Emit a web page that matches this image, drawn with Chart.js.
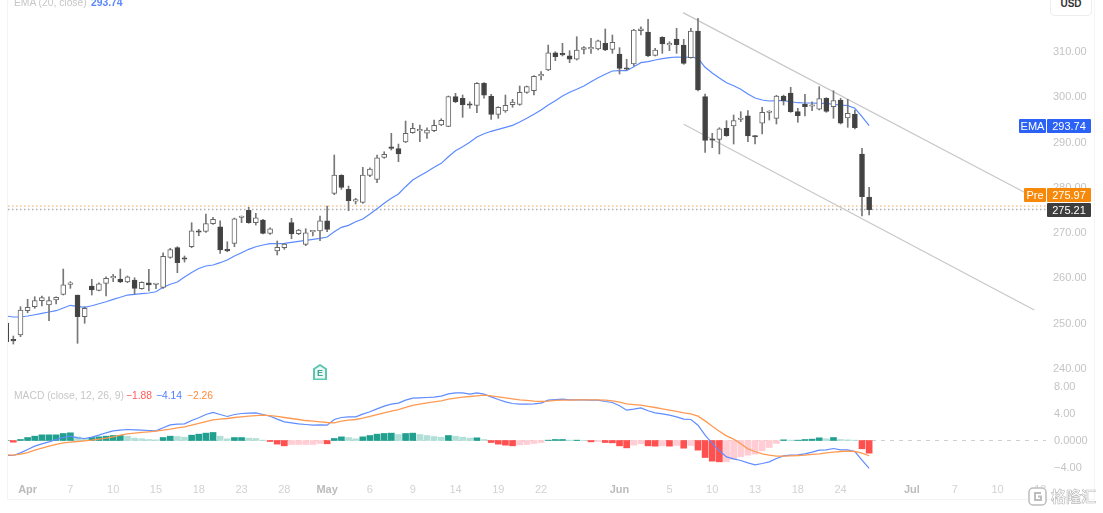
<!DOCTYPE html>
<html>
<head>
<meta charset="utf-8">
<title>Price chart</title>
<script src="https://cdn.jsdelivr.net/npm/chart.js"></script>
<style>
    html, body { margin: 0; padding: 0; background: #fff; }
    body { width: 1103px; height: 513px; position: relative; overflow: hidden; font-family: "Liberation Sans", Arial, sans-serif; }
    canvas { position: absolute; left: 0; }
    .frame { position: absolute; background: #f4f4f4; }
    .txt { position: absolute; font-size: 10.3px; line-height: 14px; white-space: nowrap; }
    .tag { position: absolute; height: 14px; line-height: 14px; font-size: 11px; color: #fff; text-align: center; border-radius: 1px; }
    #usd { position: absolute; left: 1050px; top: -8px; width: 40px; height: 22px; line-height: 22px; padding-top: 0; border: 1px solid #eee; border-radius: 4px; background: #fff; color: #333; font-size: 10px; font-weight: bold; text-align: center; }
    #wm { position: absolute; left: 1027px; top: 486px; width: 72px; height: 22px; }
    #wm span { position: absolute; left: 24px; top: 0; font-family: "Noto Sans CJK SC"; font-size: 15px; line-height: 20px; font-weight: bold; color: #fff; -webkit-text-stroke: 0.6px #b8b8b8; }
</style>
</head>
<body>
<canvas id="price-chart" width="1103" height="380" style="top:0"></canvas>
<canvas id="macd-chart" width="1103" height="133" style="top:380px"></canvas>

<div class="frame" style="left:7px;top:0;width:1px;height:499px"></div>
<div class="frame" style="left:1094px;top:0;width:1px;height:499px"></div>
<div class="frame" style="left:7px;top:499px;width:1088px;height:1px"></div>

<div class="txt" style="left:14px;top:-4px;color:#c6c6c6">EMA (20, close)</div>
<div class="txt" id="ema-legend" style="left:91px;top:-4px;color:#5a86ff;font-weight:bold"></div>

<div class="txt" style="left:14px;top:389px;color:#c6c6c6">MACD (close, 12, 26, 9)</div>
<div class="txt" id="hist-legend" style="left:126px;top:389px;color:#ff5a5a"></div>
<div class="txt" id="macd-legend" style="left:156px;top:389px;color:#4f7dff"></div>
<div class="txt" id="signal-legend" style="left:187px;top:389px;color:#ff8a3c"></div>

<div id="usd">USD</div>

<div class="tag" id="ema-name" style="left:1019px;width:27px;background:#2b62f5">EMA</div>
<div class="tag" id="ema-tag" style="left:1047px;width:44px;background:#2b62f5"></div>
<div class="tag" id="pre-name" style="left:1024px;width:22px;background:#f7890a">Pre</div>
<div class="tag" id="pre-tag" style="left:1047px;width:44px;background:#f7890a"></div>
<div class="tag" id="last-tag" style="left:1047px;width:44px;background:#3d3d3d"></div>

<div id="wm">
    <svg width="22" height="22" style="position:absolute;left:0;top:0">
        <rect x="2" y="2" width="17" height="17" rx="4" fill="#fff" stroke="#bdbdbd" stroke-width="1.5"/>
        <path d="M14 7 H8 V14 H14 V10.5 H11" fill="none" stroke="#bdbdbd" stroke-width="2"/>
    </svg>
    <span>格隆汇</span>
</div>

<script>
// daily candles
var opens = [
    250.16,246.34,247.51,252.88,253.76,255.09,254.14,255.24,256.50,258.71,
    256.34,251.55,258.33,257.38,258.93,260.12,259.88,259.21,259.66,257.73,
    259.06,258.66,258.04,264.67,266.79,264.31,267.01,270.43,270.41,272.09,
    271.42,266.17,267.76,273.46,275.05,272.31,272.90,269.97,266.06,266.79,
    272.31,269.88,267.54,270.28,270.48,272.75,278.80,282.77,279.68,277.06,
    276.81,282.77,281.89,286.75,289.02,288.65,290.13,292.18,292.58,292.05,
    292.62,293.88,293.59,300.13,299.78,298.34,298.23,303.09,300.28,296.24,
    296.97,298.36,298.45,301.10,301.45,304.72,306.02,309.84,309.71,309.18,
    308.39,310.59,310.68,310.66,311.92,310.59,309.56,306.29,307.35,314.70,
    314.41,309.27,313.24,311.57,312.87,311.54,308.74,314.64,300.13,290.61,
    290.72,293.15,293.66,295.09,295.93,291.41,294.26,296.64,295.36,300.28,
    300.95,296.82,298.52,298.03,297.35,299.78,297.92,299.40,295.43,296.31,
    287.48,277.98
];
var closes = [
    245.97,246.21,253.03,253.63,255.09,255.75,255.09,255.84,258.62,258.80,
    251.55,253.41,257.45,258.84,260.03,260.21,259.21,260.38,257.82,259.15,
    258.55,258.73,264.89,266.35,263.48,264.25,270.54,270.21,272.09,273.06,
    266.28,266.08,273.19,273.54,272.31,273.41,269.97,270.98,266.88,267.60,
    269.81,270.70,270.10,270.36,272.75,270.85,282.84,280.12,277.17,277.14,
    282.84,284.16,286.66,287.41,288.71,287.48,292.05,293.15,292.67,292.78,
    293.81,294.92,300.13,299.02,298.36,298.25,303.09,300.44,296.24,297.79,
    298.23,298.96,301.10,302.34,304.63,304.81,309.84,308.96,309.34,308.39,
    310.44,310.95,310.77,312.49,310.44,312.14,306.40,306.20,314.86,315.14,
    309.18,310.44,311.76,311.65,311.61,307.50,314.64,301.61,290.50,290.52,
    293.06,291.52,294.83,295.18,291.45,291.23,296.68,296.73,300.28,299.25,
    296.82,295.93,297.92,298.12,299.69,296.90,299.25,294.26,296.46,293.28,
    278.05,275.21
];
var highs = [
    250.82,247.29,253.76,255.39,255.97,256.12,255.97,255.97,262.08,259.28,
    256.34,253.76,259.81,259.06,260.38,260.91,262.08,260.54,260.16,259.28,
    262.02,258.84,265.68,266.66,267.01,264.96,272.31,270.85,274.23,273.50,
    272.75,268.11,273.35,273.79,275.71,274.38,273.06,271.20,268.27,267.76,
    273.28,270.85,270.98,270.48,273.79,276.00,287.26,282.91,280.41,277.70,
    284.54,284.45,287.26,287.98,292.05,289.68,294.76,294.26,293.88,293.28,
    294.98,295.27,300.28,300.88,300.50,299.02,303.22,303.22,300.66,297.92,
    300.50,299.55,302.49,302.49,304.77,305.65,311.54,310.06,311.92,310.29,
    313.38,311.17,313.02,312.65,315.08,313.75,310.95,308.39,315.01,315.58,
    317.22,310.82,313.38,312.27,315.23,312.80,315.23,317.44,300.72,292.05,
    293.28,294.83,296.09,296.82,297.04,291.52,297.79,297.04,300.44,300.50,
    302.20,297.57,300.66,299.02,302.34,299.91,301.45,299.78,299.55,297.19,
    288.74,280.12
];
var lows = [
    245.30,245.52,247.14,252.43,253.41,253.92,250.67,254.36,256.34,257.82,
    245.68,250.10,256.34,257.23,256.12,259.28,259.06,259.06,256.50,257.60,
    257.23,257.73,257.82,264.45,261.27,263.63,266.79,269.44,270.19,271.95,
    265.55,265.90,267.01,272.31,272.18,271.80,269.81,269.75,265.18,266.43,
    268.78,269.66,267.23,269.37,268.33,270.32,278.49,279.68,274.96,276.44,
    276.59,282.46,281.14,286.53,288.36,285.78,289.97,292.05,290.19,290.94,
    292.40,293.73,293.50,298.80,295.58,297.57,296.60,299.78,295.14,295.36,
    296.68,297.79,298.23,300.88,300.50,303.82,305.87,308.08,309.12,307.64,
    308.23,309.56,309.71,310.44,310.29,309.71,305.14,306.02,306.91,313.75,
    308.96,309.12,309.71,310.29,309.71,307.28,308.61,301.39,287.85,288.87,
    287.48,291.38,289.68,294.61,290.19,289.68,291.89,294.98,294.10,298.30,
    296.68,294.48,295.87,297.04,297.19,296.68,295.36,294.10,293.37,293.00,
    273.79,274.01
];

var emaValues = [
    251.71,251.49,251.49,251.71,251.99,252.30,252.59,252.88,253.47,254.07,
    253.85,253.63,253.98,254.42,254.86,255.39,255.84,256.34,256.50,256.63,
    256.79,257.07,258.04,258.71,259.21,260.32,261.31,262.19,262.75,262.97,
    263.48,264.07,264.96,265.68,266.43,267.01,267.38,267.67,267.67,267.76,
    267.98,268.20,268.42,268.64,268.86,269.15,270.32,271.29,271.73,272.53,
    273.12,274.23,275.40,276.59,277.70,278.64,280.26,281.74,282.69,283.57,
    284.54,285.42,286.88,288.21,289.09,290.06,291.23,291.96,292.49,292.93,
    293.37,293.81,294.54,295.36,296.24,297.19,298.30,299.25,300.28,301.10,
    301.76,302.49,303.44,304.32,305.07,305.80,305.87,305.87,306.75,307.64,
    307.86,308.23,308.52,308.74,308.89,308.83,308.89,308.61,306.62,305.36,
    304.26,303.22,302.56,301.76,300.72,299.84,299.40,299.18,299.25,299.25,
    299.02,298.80,298.74,298.74,298.67,298.67,298.45,298.30,298.14,297.57,
    295.71,293.74
];

var macdValues = [
    -2.22,-2.22,-1.83,-1.33,-0.84,-0.49,-0.20,0.15,0.44,0.64,
    0.40,0.30,0.49,0.79,1.14,1.43,1.53,1.63,1.58,1.53,
    1.48,1.43,1.88,2.32,2.42,2.47,2.96,3.36,3.85,4.15,
    3.85,3.56,3.85,4.00,4.05,4.10,3.85,3.60,3.16,2.77,
    2.62,2.47,2.37,2.27,2.32,2.27,3.11,3.41,3.51,3.51,
    3.90,4.25,4.69,5.09,5.38,5.53,5.98,6.27,6.32,6.37,
    6.42,6.57,6.91,7.06,7.06,6.86,7.06,6.86,6.47,6.07,
    5.73,5.48,5.38,5.38,5.43,5.53,5.98,6.07,6.12,6.02,
    6.02,6.02,5.98,5.98,5.78,5.63,5.14,4.49,4.64,4.84,
    4.40,4.10,3.95,3.75,3.51,3.16,3.11,2.27,0.79,-0.44,
    -1.53,-2.42,-2.72,-2.96,-3.31,-3.60,-3.41,-3.16,-2.67,-2.27,
    -2.17,-2.12,-1.98,-1.73,-1.43,-1.38,-1.19,-1.38,-1.38,-1.63,
    -2.91,-4.14
];
var signalValues = [
    -2.12,-2.17,-2.02,-1.78,-1.43,-1.14,-0.84,-0.59,-0.35,-0.25,
    -0.15,-0.05,0.05,0.20,0.35,0.54,0.79,0.99,1.09,1.19,
    1.28,1.38,1.53,1.68,1.88,2.02,2.27,2.52,2.81,3.06,
    3.16,3.26,3.41,3.51,3.60,3.70,3.75,3.70,3.56,3.41,
    3.26,3.11,2.96,2.86,2.77,2.67,2.62,2.86,3.01,3.11,
    3.31,3.56,3.85,4.10,4.35,4.59,4.89,5.19,5.38,5.58,
    5.73,5.88,6.12,6.27,6.42,6.52,6.62,6.72,6.62,6.47,
    6.32,6.17,6.02,5.93,5.83,5.78,5.83,5.93,5.98,5.98,
    6.02,6.02,6.02,6.02,5.98,5.88,5.68,5.43,5.33,5.23,
    5.04,4.89,4.69,4.49,4.30,4.10,3.95,3.60,2.91,2.12,
    1.38,0.69,0.20,-0.49,-1.23,-1.63,-1.98,-2.17,-2.32,-2.32,
    -2.27,-2.22,-2.17,-2.07,-1.98,-1.83,-1.73,-1.63,-1.58,-1.63,
    -1.88,-2.26
];
var histValues = [
    0,-0.25,0.15,0.44,0.64,0.84,0.84,0.84,1.04,1.14,
    0.54,0.30,0.44,0.54,0.64,0.74,0.74,0.64,0.35,0.25,
    0.15,0.10,0.44,0.64,0.59,0.49,0.79,0.94,1.09,1.19,
    0.64,0.25,0.44,0.44,0.35,0.30,0.05,-0.15,-0.54,-0.79,
    -0.59,-0.59,-0.59,-0.59,-0.44,-0.49,0.30,0.54,0.44,0.25,
    0.54,0.74,0.94,1.04,1.09,0.89,1.04,1.09,0.89,0.74,
    0.59,0.49,0.74,0.64,0.49,0.35,0.40,0.15,-0.30,-0.54,
    -0.69,-0.79,-0.64,-0.59,-0.44,-0.30,0.05,0.15,0.15,0.05,
    0.05,0.02,-0.20,-0.15,-0.30,-0.35,-0.79,-1.09,-0.69,-0.49,
    -0.79,-0.84,-0.79,-0.84,-0.74,-1.14,-0.74,-1.43,-2.52,-3.06,
    -3.16,-3.16,-2.81,-2.42,-2.17,-2.02,-1.53,-1.04,-0.44,0.10,
    0.05,0.05,0.15,0.20,0.40,0.25,0.44,0.15,0.10,0.05,
    -1.23,-1.88
];

// trend channel, [bar index, price] at both ends
var channelUpperX = [94.9, 142.9];
var channelUpperY = [318.68, 278.93];
var channelLowerX = [95, 144.15];
var channelLowerY = [294.04, 253.03];

var lastPrice = 275.21;
var prePrice = 275.97;
var earningsBar = 44;

var xMin = 0.25, xMax = 145.8;
var priceTicks = [240, 250, 260, 270, 280, 290, 300, 310];
var macdTicks = [8, 4, 0, -4];
var macdTickLabels = ['8.00', '4.00', '0.0000', '\u22124.00'];
var dateTicks = [3, 9, 15, 21, 27, 33, 39, 45, 51, 57, 63, 69, 75, 86, 93, 99, 105, 111, 117, 127, 133, 139, 145];
var dateLabels = ['Apr', '7', '10', '15', '18', '23', '28', 'May', '6', '9', '14', '19', '22', 'Jun', '5', '10', '13', '18', '24', 'Jul', '7', '10', '13'];
var monthNames = ['Apr', 'May', 'Jun', 'Jul'];

function fmt(v) {
    return (v < 0 ? '\u2212' : '') + Math.abs(v).toFixed(2);
}

function pairs(xs, ys) {
    return xs.map(function (x, i) { return { x: x, y: ys[i] }; });
}

function series(values) {
    return values.map(function (v, i) { return { x: i, y: v }; });
}

function flatLine(value) {
    return [{ x: xMin, y: value }, { x: xMax, y: value }];
}

function isUp(i) {
    return closes[i] >= opens[i];
}

function histColor(ctx) {
    let i = ctx.dataIndex;
    let v = histValues[i];
    let prev = i > 0 ? histValues[i - 1] : 0;
    if (v >= 0) return v >= prev ? '#22a08f' : '#b2e0d9';
    return v < prev ? '#ff5050' : '#ffcdd3';
}

// axes keep the plot the full canvas height, labels may hang over the edge
function noLabelPadding(axis) {
    axis.paddingTop = 0;
    axis.paddingBottom = 0;
    axis.paddingLeft = 0;
    axis.paddingRight = 0;
}

function fitValueAxis(axis) {
    axis.width = 57;
    noLabelPadding(axis);
}

// the little "E" house sitting under the price bars
var earningsMark = {
    id: 'earningsMark',
    afterDatasetsDraw: function (chart) {
        let c = chart.ctx;
        let x = chart.scales.x.getPixelForValue(earningsBar);
        let bottom = chart.chartArea.bottom;
        c.save();
        c.beginPath();
        c.moveTo(x - 6, bottom - 11);
        c.lineTo(x, bottom - 15);
        c.lineTo(x + 6, bottom - 11);
        c.lineTo(x + 6, bottom - 0.5);
        c.lineTo(x - 6, bottom - 0.5);
        c.closePath();
        c.fillStyle = '#eef9f6';
        c.strokeStyle = '#5cc6b0';
        c.lineWidth = 2;
        c.lineJoin = 'round';
        c.fill();
        c.stroke();
        c.fillStyle = '#34a890';
        c.font = 'bold 9px "Liberation Sans"';
        c.textAlign = 'center';
        c.textBaseline = 'middle';
        c.fillText('E', x, bottom - 6);
        c.restore();
    }
};

var priceCtx = document.getElementById('price-chart');
var priceChart = new Chart(priceCtx, {
    type: 'bar',
    data: {
        datasets: [
            {
                label: 'body',
                order: 0,
                grouped: false,
                barThickness: 5,
                minBarLength: 1.5,
                borderWidth: 1,
                borderSkipped: false,
                borderColor: function (ctx) {
                    return isUp(ctx.dataIndex) ? '#666666' : '#474747';
                },
                backgroundColor: function (ctx) {
                    return isUp(ctx.dataIndex) ? '#ffffff' : '#424242';
                },
                data: opens.map(function (o, i) { return { x: i, y: [o, closes[i]] }; })
            },
            {
                label: 'wick',
                order: 1,
                grouped: false,
                barThickness: 1,
                backgroundColor: '#777777',
                data: lows.map(function (l, i) { return { x: i, y: [l, highs[i]] }; })
            },
            {
                type: 'line',
                label: 'EMA',
                order: 2,
                borderColor: '#5b8bff',
                borderWidth: 1.2,
                pointRadius: 0,
                data: series(emaValues)
            },
            {
                type: 'line',
                label: 'upper',
                order: 3,
                borderColor: '#c8c8c8',
                borderWidth: 1.3,
                pointRadius: 0,
                data: pairs(channelUpperX, channelUpperY)
            },
            {
                type: 'line',
                label: 'lower',
                order: 3,
                borderColor: '#c8c8c8',
                borderWidth: 1.3,
                pointRadius: 0,
                data: pairs(channelLowerX, channelLowerY)
            },
            {
                type: 'line',
                label: 'pre',
                order: 4,
                borderColor: '#f8c595',
                borderWidth: 1.5,
                borderDash: [1.5, 2.5],
                pointRadius: 0,
                data: flatLine(prePrice)
            },
            {
                type: 'line',
                label: 'last',
                order: 4,
                borderColor: '#adadad',
                borderWidth: 1.5,
                borderDash: [1.5, 2.5],
                pointRadius: 0,
                data: flatLine(lastPrice)
            }
        ]
    },
    options: {
        responsive: false,
        animation: false,
        layout: { autoPadding: false, padding: { left: 8, top: 0, right: 0, bottom: 0 } },
        plugins: { legend: { display: false }, tooltip: { enabled: false } },
        scales: {
            x: {
                type: 'linear',
                offset: false,
                display: false,
                min: xMin,
                max: xMax,
                grid: { display: false, offset: false }
            },
            y: {
                position: 'right',
                beginAtZero: false,
                min: 237.58,
                max: 321.48,
                grid: { display: false, drawTicks: false },
                border: { display: false },
                afterFit: fitValueAxis,
                afterBuildTicks: function (axis) {
                    axis.ticks = priceTicks.map(function (v) { return { value: v }; });
                },
                ticks: {
                    padding: 7,
                    color: '#c4c4c4',
                    font: { family: '"Liberation Sans"', size: 11 },
                    callback: function (v) { return Number(v).toFixed(2); }
                }
            }
        }
    },
    plugins: [earningsMark]
});

var macdCtx = document.getElementById('macd-chart');
var macdChart = new Chart(macdCtx, {
    type: 'bar',
    data: {
        datasets: [
            {
                type: 'line',
                label: 'signal',
                order: 0,
                borderColor: '#ff9a52',
                borderWidth: 1.3,
                pointRadius: 0,
                data: series(signalValues)
            },
            {
                type: 'line',
                label: 'macd',
                order: 1,
                borderColor: '#5f8cff',
                borderWidth: 1.2,
                pointRadius: 0,
                data: series(macdValues)
            },
            {
                label: 'hist',
                order: 2,
                grouped: false,
                barThickness: 6,
                backgroundColor: histColor,
                data: series(histValues)
            },
            {
                type: 'line',
                label: 'zero',
                order: 3,
                borderColor: '#cfcfcf',
                borderWidth: 1,
                borderDash: [4, 5],
                pointRadius: 0,
                data: flatLine(0)
            }
        ]
    },
    options: {
        responsive: false,
        animation: false,
        layout: { autoPadding: false, padding: { left: 8, top: 0, right: 0, bottom: 0 } },
        plugins: { legend: { display: false }, tooltip: { enabled: false } },
        scales: {
            x: {
                type: 'linear',
                offset: false,
                min: xMin,
                max: xMax,
                grid: { display: false, offset: false, drawTicks: false },
                border: { display: false },
                afterFit: function (axis) {
                    axis.height = 33;
                    noLabelPadding(axis);
                },
                afterBuildTicks: function (axis) {
                    axis.ticks = dateTicks.map(function (v) { return { value: v }; });
                },
                ticks: {
                    autoSkip: false,
                    maxRotation: 0,
                    padding: 3,
                    color: function (ctx) {
                        return monthNames.indexOf(dateLabels[ctx.index]) >= 0 ? '#bcbcbc' : '#d2d2d2';
                    },
                    font: function (ctx) {
                        let bold = monthNames.indexOf(dateLabels[ctx.index]) >= 0;
                        return { family: '"Liberation Sans"', size: 11, weight: bold ? 'bold' : 'normal' };
                    },
                    callback: function (v, i) { return dateLabels[i]; }
                }
            },
            y: {
                position: 'right',
                beginAtZero: false,
                min: -5.852,
                max: 8.963,
                grid: { display: false, drawTicks: false },
                border: { display: false },
                afterFit: fitValueAxis,
                afterBuildTicks: function (axis) {
                    axis.ticks = macdTicks.map(function (v) { return { value: v }; });
                },
                ticks: {
                    padding: 8,
                    color: '#c4c4c4',
                    font: { family: '"Liberation Sans"', size: 11 },
                    callback: function (v, i) { return macdTickLabels[i]; }
                }
            }
        }
    }
});

// right-hand value tags and legend values
function putTag(id, text, top) {
    let el = document.getElementById(id);
    if (text !== null) el.textContent = text;
    el.style.top = Math.round(top) + 'px';
}

var yScale = priceChart.scales.y;
var last = closes.length - 1;
var emaTop = yScale.getPixelForValue(emaValues[last]) - 7;
var lastTop = yScale.getPixelForValue(lastPrice) - 7;
putTag('ema-name', null, emaTop);
putTag('ema-tag', emaValues[last].toFixed(2), emaTop);
putTag('last-tag', lastPrice.toFixed(2), lastTop);
putTag('pre-name', null, lastTop - 14.5);
putTag('pre-tag', prePrice.toFixed(2), lastTop - 14.5);

document.getElementById('ema-legend').textContent = emaValues[last].toFixed(2);
document.getElementById('hist-legend').textContent = fmt(histValues[last]);
document.getElementById('macd-legend').textContent = fmt(macdValues[last]);
document.getElementById('signal-legend').textContent = fmt(signalValues[last]);
</script>
</body>
</html>
